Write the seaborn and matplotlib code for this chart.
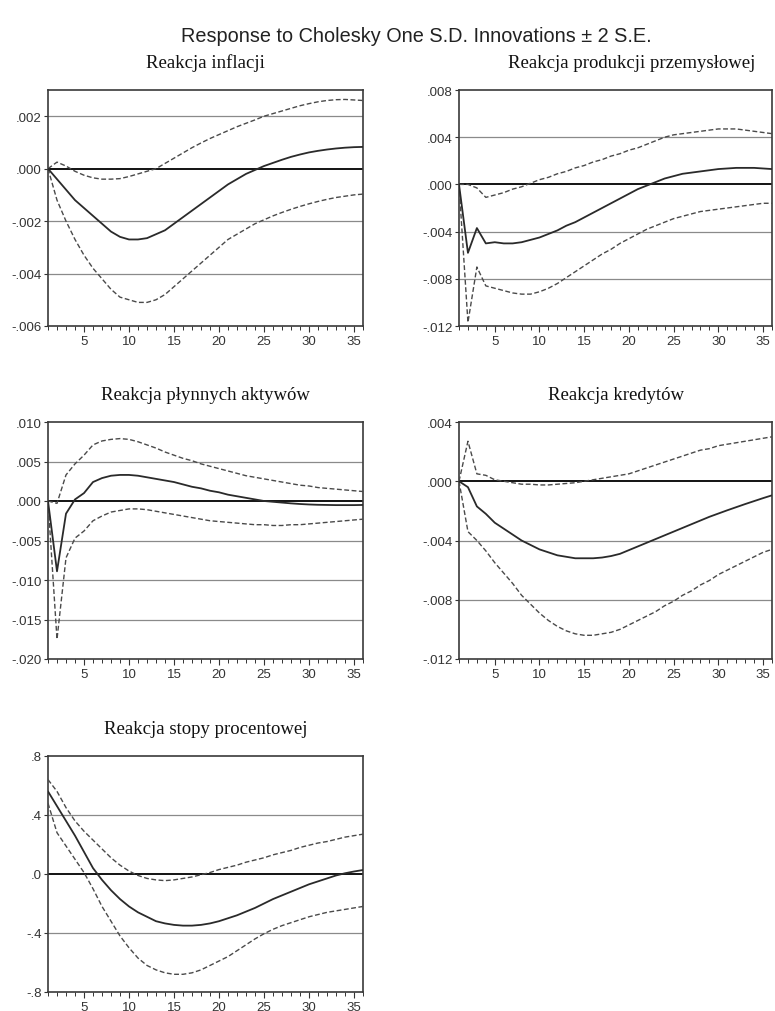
import numpy as np
import pandas as pd
import matplotlib
matplotlib.use("Agg")
import matplotlib.pyplot as plt
import seaborn as sns
from matplotlib.ticker import FuncFormatter, MultipleLocator

periods = list(range(1, 37))

infl_resp = [0, -0.0004, -0.0008, -0.0012, -0.0015, -0.0018, -0.0021, -0.0024, -0.0026, -0.0027,
             -0.0027, -0.00265, -0.0025, -0.00235, -0.0021, -0.00185, -0.0016, -0.00135, -0.0011, -0.00085,
             -0.0006, -0.0004, -0.0002, -0.00005, 0.0001, 0.00022, 0.00034, 0.00045, 0.00054, 0.00062,
             0.00068, 0.00073, 0.00077, 0.0008, 0.00082, 0.00083]
infl_hi = [0, 0.00025, 0.0001, -0.0001, -0.00025, -0.00035, -0.0004, -0.0004, -0.00038, -0.0003,
           -0.0002, -0.0001, 0.0, 0.0002, 0.0004, 0.0006, 0.0008, 0.00098, 0.00115, 0.0013,
           0.00145, 0.0016, 0.00173, 0.00186, 0.0020, 0.0021, 0.0022, 0.0023, 0.0024, 0.00248,
           0.00255, 0.0026, 0.00263, 0.00264, 0.00262, 0.0026]
infl_lo = [0, -0.0012, -0.0020, -0.0027, -0.0033, -0.0038, -0.0042, -0.0046, -0.0049, -0.0050,
           -0.0051, -0.0051, -0.0050, -0.0048, -0.0045, -0.0042, -0.0039, -0.0036, -0.0033, -0.0030,
           -0.0027, -0.0025, -0.0023, -0.0021, -0.00195, -0.0018, -0.00167, -0.00155, -0.00144, -0.00134,
           -0.00125, -0.00117, -0.0011, -0.00105, -0.0010, -0.00097]

prod_resp = [0, -0.0058, -0.0037, -0.0050, -0.0049, -0.0050, -0.0050, -0.0049, -0.0047, -0.0045,
             -0.0042, -0.0039, -0.0035, -0.0032, -0.0028, -0.0024, -0.0020, -0.0016, -0.0012, -0.0008,
             -0.0004, -0.0001, 0.0002, 0.0005, 0.0007, 0.0009, 0.0010, 0.0011, 0.0012, 0.0013,
             0.00135, 0.0014, 0.0014, 0.0014, 0.00135, 0.0013]
prod_hi = [0, 0.0, -0.0003, -0.0011, -0.0009, -0.0007, -0.0004, -0.0002, 0.0001, 0.0004,
           0.0006, 0.0009, 0.0011, 0.0014, 0.0016, 0.0019, 0.0021, 0.0024, 0.0026, 0.0029,
           0.0031, 0.0034, 0.0037, 0.0040, 0.0042, 0.0043, 0.0044, 0.0045, 0.0046, 0.0047,
           0.0047, 0.0047, 0.0046, 0.0045, 0.0044, 0.0043]
prod_lo = [0, -0.0117, -0.0070, -0.0086, -0.0088, -0.0090, -0.0092, -0.0093, -0.0093, -0.0091,
           -0.0088, -0.0084, -0.0079, -0.0074, -0.0069, -0.0064, -0.0059, -0.0055, -0.0050, -0.0046,
           -0.0042, -0.0038, -0.0035, -0.0032, -0.0029, -0.0027, -0.0025, -0.0023, -0.0022, -0.0021,
           -0.0020, -0.0019, -0.0018, -0.0017, -0.0016, -0.0016]

akt_resp = [0, -0.0089, -0.0016, 0.0002, 0.0010, 0.0024, 0.0029, 0.0032, 0.0033, 0.0033,
            0.0032, 0.0030, 0.0028, 0.0026, 0.0024, 0.0021, 0.0018, 0.0016, 0.0013, 0.0011,
            0.0008, 0.0006, 0.0004, 0.0002, 0.0, -0.0001, -0.0002, -0.0003, -0.00038, -0.00044,
            -0.00048, -0.0005, -0.00052, -0.00052, -0.00052, -0.0005]
akt_hi = [0, -0.0003, 0.0033, 0.0047, 0.0058, 0.0071, 0.0076, 0.0078, 0.0079, 0.0078,
          0.0075, 0.0071, 0.0067, 0.0062, 0.0058, 0.0054, 0.0051, 0.0047, 0.0044, 0.0041,
          0.0038, 0.0035, 0.0032, 0.0030, 0.0028, 0.0026, 0.0024, 0.0022, 0.0020, 0.0019,
          0.0017, 0.0016, 0.0015, 0.0014, 0.0013, 0.0012]
akt_lo = [0, -0.0175, -0.0072, -0.0047, -0.0038, -0.0025, -0.0019, -0.0014, -0.0012, -0.0010,
          -0.0010, -0.0011, -0.0013, -0.0015, -0.0017, -0.0019, -0.0021, -0.0023, -0.0025, -0.0026,
          -0.0027, -0.0028, -0.0029, -0.0030, -0.0030, -0.0031, -0.0031, -0.0030, -0.0030, -0.0029,
          -0.0028, -0.0027, -0.0026, -0.0025, -0.0024, -0.0023]

kred_resp = [0, -0.0004, -0.0017, -0.0022, -0.0028, -0.0032, -0.0036, -0.0040, -0.0043, -0.0046,
             -0.0048, -0.0050, -0.0051, -0.0052, -0.0052, -0.0052, -0.00515, -0.00505, -0.0049, -0.00465,
             -0.0044, -0.00415, -0.0039, -0.00365, -0.0034, -0.00315, -0.0029, -0.00265, -0.0024, -0.00218,
             -0.00196, -0.00175, -0.00154, -0.00134, -0.00114, -0.00095]
kred_hi = [0, 0.0027, 0.0005, 0.0004, 0.0001, 0.0, -0.0001, -0.0002, -0.0002, -0.00025,
           -0.00025, -0.0002, -0.00015, -0.0001, 0.0, 0.0001, 0.0002, 0.0003, 0.0004, 0.0005,
           0.0007, 0.0009, 0.0011, 0.0013, 0.0015, 0.0017, 0.0019, 0.0021, 0.0022, 0.0024,
           0.0025, 0.0026, 0.0027, 0.0028, 0.0029, 0.0030]
kred_lo = [0, -0.0034, -0.0040, -0.0047, -0.0055, -0.0062, -0.0069, -0.0077, -0.0083, -0.0089,
           -0.0094, -0.0098, -0.0101, -0.0103, -0.0104, -0.0104, -0.0103, -0.0102, -0.0100, -0.0097,
           -0.0094, -0.0091, -0.0088, -0.0084, -0.0081, -0.0077, -0.0074, -0.0070, -0.0067, -0.0063,
           -0.0060, -0.0057, -0.0054, -0.0051, -0.0048, -0.0046]

stopa_resp = [0.56, 0.46, 0.36, 0.26, 0.15, 0.04, -0.04, -0.11, -0.17, -0.22,
              -0.26, -0.29, -0.32, -0.335, -0.345, -0.35, -0.35, -0.345, -0.335, -0.32,
              -0.30, -0.28, -0.255, -0.23, -0.20, -0.17, -0.145, -0.12, -0.095, -0.07,
              -0.05, -0.03, -0.01, 0.005, 0.017, 0.027]
stopa_hi = [0.64, 0.56, 0.45, 0.36, 0.29, 0.23, 0.17, 0.11, 0.06, 0.02,
            -0.01, -0.03, -0.04, -0.045, -0.04, -0.03, -0.02, -0.005, 0.01, 0.03,
            0.045, 0.06, 0.08, 0.095, 0.11, 0.13, 0.145, 0.16, 0.18, 0.195,
            0.21, 0.22, 0.235, 0.25, 0.26, 0.27]
stopa_lo = [0.48, 0.28, 0.19, 0.10, 0.01, -0.10, -0.22, -0.32, -0.42, -0.50,
            -0.57, -0.62, -0.65, -0.67, -0.68, -0.68, -0.67, -0.65, -0.62, -0.59,
            -0.56, -0.52, -0.48, -0.44, -0.405, -0.375, -0.35, -0.33, -0.31, -0.29,
            -0.275, -0.26, -0.25, -0.24, -0.23, -0.22]

suptitle = "Response to Cholesky One S.D. Innovations \u00b1 2 S.E."
titles = ["Reakcja inflacji", "Reakcja produkcji przemys\u0142owej",
          "Reakcja p\u0142ynnych aktyw\u00f3w", "Reakcja kredyt\u00f3w",
          "Reakcja stopy procentowej"]
series = [(infl_resp, infl_lo, infl_hi), (prod_resp, prod_lo, prod_hi),
          (akt_resp, akt_lo, akt_hi), (kred_resp, kred_lo, kred_hi),
          (stopa_resp, stopa_lo, stopa_hi)]
ylims = [(-0.006, 0.003), (-0.012, 0.008), (-0.020, 0.010), (-0.012, 0.004), (-0.8, 0.8)]
ysteps = [0.002, 0.004, 0.005, 0.004, 0.4]
ydec = [3, 3, 3, 3, 1]
xticks = [5, 10, 15, 20, 25, 30, 35]

sns.set_theme(style="white")
plt.rcParams['font.family'] = ['Liberation Sans', 'DejaVu Sans']

W, H = 775, 1012
fig = plt.figure(figsize=(W / 100, H / 100), dpi=100)

# pixel boxes: (left, top, right, bottom)
boxes = [(48, 91, 363, 327), (459, 91, 772, 327),
         (48, 423, 363, 660), (459, 423, 772, 660),
         (48, 757, 363, 993)]
title_dx = [0, 16, 0, 0, 0]

fig.text(416 / W, 1 - 37 / H, suptitle, ha='center', va='center', fontsize=14.3,
         family=['Liberation Sans', 'DejaVu Sans'], color='#222222')

def fmt_factory(dec):
    def f(v, pos):
        s = f"{v:.{dec}f}"
        if s.startswith("-0."):
            s = "-" + s[2:]
        elif s.startswith("0."):
            s = s[1:]
        if s.startswith("-") and float(s) == 0:
            s = s[1:]
        return s
    return f

for i, (box, title, (resp, lo, hi)) in enumerate(zip(boxes, titles, series)):
    l, t, r, b = box
    ax = fig.add_axes([l / W, 1 - b / H, (r - l) / W, (b - t) / H])
    ymin, ymax = ylims[i]
    step = ysteps[i]
    yt = np.round(np.arange(ymin, ymax + step / 2, step), 6)
    for v in yt:
        if abs(v) < 1e-12:
            continue
        if ymin < v < ymax:
            ax.axhline(v, color='#8a8a8a', lw=0.9, zorder=1)
    ax.axhline(0, color='black', lw=1.3, zorder=2)

    df = pd.DataFrame({"period": periods, "resp": resp, "lo": lo, "hi": hi})
    sns.lineplot(data=df, x="period", y="hi", ax=ax, color='#4a4a4a', lw=1.0,
                 linestyle=(0, (3.5, 1.8)), zorder=3)
    sns.lineplot(data=df, x="period", y="lo", ax=ax, color='#4a4a4a', lw=1.0,
                 linestyle=(0, (3.5, 1.8)), zorder=3)
    sns.lineplot(data=df, x="period", y="resp", ax=ax, color='#2a2a2a', lw=1.3, zorder=4)

    ax.set_xlim(1, 36)
    ax.set_ylim(ymin, ymax)
    ax.set_yticks(yt)
    ax.yaxis.set_major_formatter(FuncFormatter(fmt_factory(ydec[i])))
    ax.set_xticks(xticks)
    ax.xaxis.set_minor_locator(MultipleLocator(1))
    ax.set_xlabel("")
    ax.set_ylabel("")
    ax.tick_params(axis='y', which='major', direction='out', length=3, width=0.8,
                   color='#333333', labelsize=9.5, labelcolor='#333333', pad=1.5, left=True)
    ax.tick_params(axis='x', which='major', direction='out', length=4.5, width=0.8,
                   color='#333333', labelsize=9.5, labelcolor='#333333', pad=2, bottom=True)
    ax.tick_params(axis='x', which='minor', direction='out', length=3, width=0.7,
                   color='#333333', bottom=True)
    for sp in ax.spines.values():
        sp.set_color('#3a3a3a')
        sp.set_linewidth(1.2)
        sp.set_visible(True)
    ax.set_facecolor('white')
    ax.text(0.5 + title_dx[i] / (r - l), 1 + 28 / (b - t), title, transform=ax.transAxes,
            ha='center', va='center', fontsize=13.5,
            family=['Liberation Serif', 'DejaVu Serif'], color='#111111')

fig.savefig("out.png", dpi=100, facecolor='white')
